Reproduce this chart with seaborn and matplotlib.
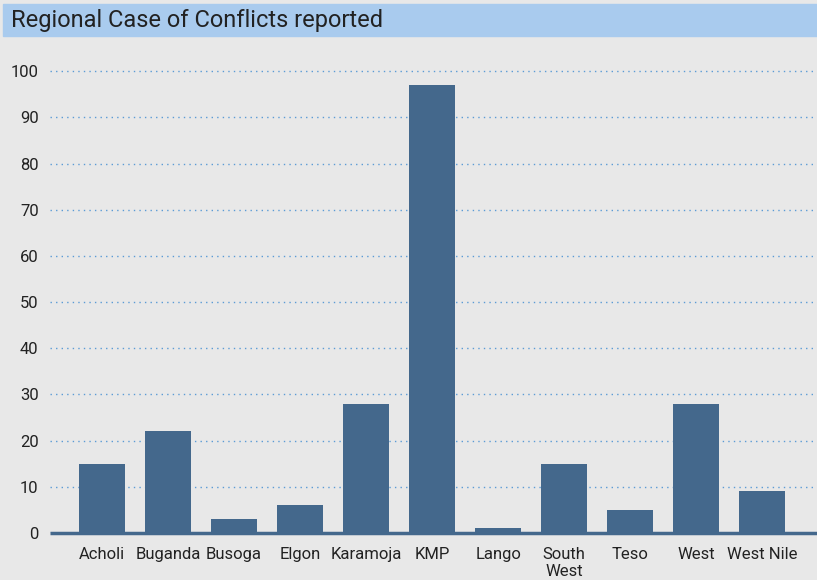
import pandas as pd
import seaborn as sns
import matplotlib.pyplot as plt
from matplotlib.patches import Rectangle

regions = ["Acholi", "Buganda", "Busoga", "Elgon", "Karamoja", "KMP",
           "Lango", "South\nWest", "Teso", "West", "West Nile"]
cases = [15, 22, 3, 6, 28, 97, 1, 15, 5, 28, 9]
yticks = [0, 10, 20, 30, 40, 50, 60, 70, 80, 90, 100]

bg = "#e8e8e8"
bar_color = "#44688c"

sns.set_theme(style="white")
plt.rcParams["font.family"] = ["Roboto", "DejaVu Sans"]

df = pd.DataFrame({"region": regions, "cases": cases})

fig = plt.figure(figsize=(8.17, 5.80), dpi=100, facecolor=bg)
ax = fig.add_axes([0.061, 0.081, 0.939, 0.836])
ax.set_facecolor(bg)

sns.barplot(data=df, x="region", y="cases", color=bar_color,
            saturation=1, width=0.7, linewidth=0, ax=ax)

ax.set_xlim(-0.79, 10.83)
ax.set_ylim(0, 105)
ax.set_yticks(yticks)
ax.yaxis.grid(True, linestyle=(0, (1, 3)), color="#5b9bd5", linewidth=1)
ax.set_axisbelow(True)
ax.axhline(0, color=bar_color, linewidth=2.5, clip_on=False,
           solid_capstyle="butt")

for s in ax.spines.values():
    s.set_visible(False)
ax.tick_params(axis="both", length=0, labelsize=12, colors="#222222")
ax.tick_params(axis="x", pad=10)
ax.tick_params(axis="y", pad=8)
ax.set_xlabel("")
ax.set_ylabel("")

# title banner
fig.patches.append(Rectangle((3 / 817, 1 - 36 / 580), 1, 32 / 580,
                             transform=fig.transFigure, color="#a9cbee",
                             zorder=0))
fig.text(11 / 817, 1 - 20 / 580, "Regional Case of Conflicts reported",
         fontsize=17, color="#222222", va="center", ha="left")

fig.savefig("out.png", dpi=100, facecolor=bg)
